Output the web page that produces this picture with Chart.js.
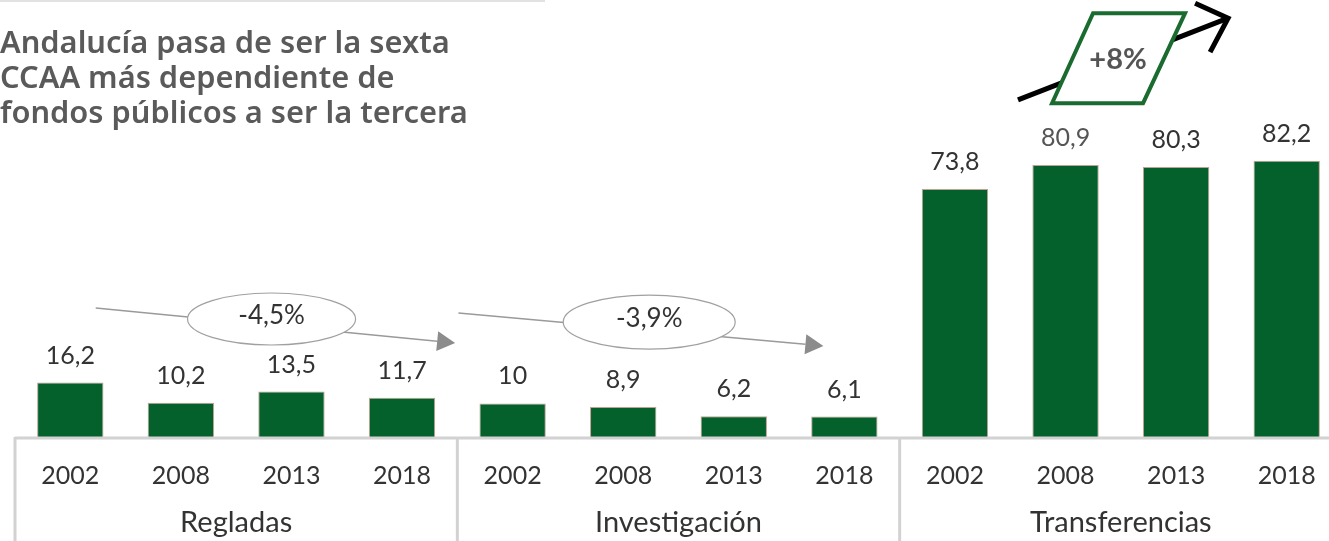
<!DOCTYPE html>
<html lang="es">
  <head>
    <meta charset="UTF-8" />
    <title>Andalucía - dependencia de fondos públicos</title>
    <script src="https://cdn.jsdelivr.net/npm/chart.js@4.4.0/dist/chart.umd.min.js"></script>
    <style>
      html, body { margin: 0; padding: 0; background: #fff; overflow: hidden; width: 1329px; height: 541px; }
      #wrap { position: relative; width: 1329px; height: 541px; overflow: hidden; }
      #title {
        position: absolute; left: 0px; top: 24px;
        font-family: "Noto Sans", sans-serif; font-weight: 600;
        font-size: 30.8px; line-height: 35px; color: #5a5a5a;
        white-space: nowrap;
      }
      canvas { position: absolute; left: 0; top: 0; }
    </style>
  </head>
  <body>
    <div id="wrap">
      <canvas id="myChart" width="1345" height="541"></canvas>
      <div id="title">Andalucía pasa de ser la sexta<br />CCAA más dependiente de<br />fondos públicos a ser la tercera</div>
    </div>
    <script>
      // datos
      let years = ["2002", "2008", "2013", "2018"];
      let groups = ["Regladas", "Investigación", "Transferencias"];
      let regladas = [16.2, 10.2, 13.5, 11.7];
      let investigacion = [10, 8.9, 6.2, 6.1];
      let transferencias = [73.8, 80.9, 80.3, 82.2];
      let changes = ["-4,5%", "-3,9%", "+8%"];

      let labels = [];
      groups.forEach(() => years.forEach((y) => labels.push(y)));
      let values = regladas.concat(investigacion, transferencias);

      const green = "#05612b";
      const font = "Lato";

      function fmt(v) {
        return String(v).replace(".", ",");
      }

      function arrow(ctx, x1, y1, x2, y2, color) {
        let a = Math.atan2(y2 - y1, x2 - x1);
        let len = 18;
        let bx = x2 - len * Math.cos(a);
        let by = y2 - len * Math.sin(a);
        ctx.strokeStyle = "#9a9a9a";
        ctx.lineWidth = 1.5;
        ctx.beginPath();
        ctx.moveTo(x1, y1);
        ctx.lineTo(bx, by);
        ctx.stroke();
        ctx.fillStyle = color;
        ctx.beginPath();
        ctx.moveTo(x2, y2);
        ctx.lineTo(bx + 10 * Math.sin(a), by - 10 * Math.cos(a));
        ctx.lineTo(bx - 10 * Math.sin(a), by + 10 * Math.cos(a));
        ctx.closePath();
        ctx.fill();
      }

      function bubble(ctx, cx, cy, rx, ry, text) {
        ctx.beginPath();
        ctx.ellipse(cx, cy, rx, ry, 0, 0, Math.PI * 2);
        ctx.fillStyle = "#fff";
        ctx.fill();
        ctx.strokeStyle = "#a0a0a0";
        ctx.lineWidth = 1.2;
        ctx.stroke();
        ctx.fillStyle = "#333";
        ctx.font = "26px " + font;
        ctx.textAlign = "center";
        ctx.textBaseline = "middle";
        ctx.fillText(text, cx, cy - 3);
      }

      const extras = {
        id: "extras",
        afterDatasetsDraw(chart) {
          let ctx = chart.ctx;
          let xs = chart.scales.x;
          let ys = chart.scales.y;
          let area = chart.chartArea;
          let px = (i) => xs.getPixelForValue(i);
          let py = (v) => ys.getPixelForValue(v);
          ctx.save();

          // línea fina arriba
          ctx.strokeStyle = "#e2e2e2";
          ctx.lineWidth = 2;
          ctx.beginPath();
          ctx.moveTo(0, 1);
          ctx.lineTo(545, 1);
          ctx.stroke();

          // tabla inferior
          ctx.strokeStyle = "#d2d2d2";
          ctx.lineWidth = 3;
          ctx.beginPath();
          ctx.moveTo(area.left, area.bottom + 1);
          ctx.lineTo(chart.width, area.bottom + 1);
          let bounds = [area.left];
          for (let g = 1; g < groups.length; g++) {
            let i = g * years.length;
            bounds.push((px(i - 1) + px(i)) / 2);
          }
          bounds.push(area.right);
          bounds.slice(0, groups.length).forEach((b) => {
            ctx.moveTo(b, area.bottom);
            ctx.lineTo(b, chart.height);
          });
          ctx.stroke();

          ctx.fillStyle = "#333";
          ctx.font = "29px " + font;
          ctx.textAlign = "center";
          ctx.textBaseline = "middle";
          groups.forEach((g, k) => {
            ctx.fillText(g, (bounds[k] + bounds[k + 1]) / 2, 523);
          });

          // etiquetas de valor
          ctx.font = "25px " + font;
          let meta = chart.getDatasetMeta(0);
          meta.data.forEach((bar, i) => {
            ctx.fillStyle = i === 9 ? "#555" : "#333";
            ctx.fillText(fmt(values[i]), bar.x, bar.y - 27);
          });

          // flechas de tendencia
          arrow(ctx, px(0.23), py(38.4), px(3.48), py(28), "#8c8c8c");
          bubble(ctx, px(1.82), py(35.1), 84, 26, changes[0]);
          arrow(ctx, px(3.51), py(36.9), px(6.81), py(27.1), "#8c8c8c");
          bubble(ctx, px(5.235), py(34.2), 86, 27, changes[1]);

          // flecha negra + paralelogramo
          let x1 = px(8.57), y1 = py(100.3);
          let x2 = px(10.47), y2 = py(124.6);
          ctx.strokeStyle = "#000";
          ctx.lineWidth = 5;
          ctx.lineCap = "butt";
          ctx.beginPath();
          ctx.moveTo(x1, y1);
          ctx.lineTo(x2, y2);
          ctx.stroke();
          ctx.beginPath();
          ctx.moveTo(x2 - 33, y2 - 15);
          ctx.lineTo(x2, y2);
          ctx.lineTo(x2 - 18, y2 + 34);
          ctx.stroke();

          let cx = px(9.475), cy = py(112.7);
          ctx.beginPath();
          ctx.moveTo(cx - 25, cy - 45);
          ctx.lineTo(cx + 67, cy - 45);
          ctx.lineTo(cx + 25, cy + 45);
          ctx.lineTo(cx - 66, cy + 45);
          ctx.closePath();
          ctx.fillStyle = "#fff";
          ctx.fill();
          ctx.strokeStyle = "#1a6b2f";
          ctx.lineWidth = 4;
          ctx.lineJoin = "miter";
          ctx.stroke();
          ctx.fillStyle = "#555";
          ctx.font = "bold 29px " + font;
          ctx.fillText(changes[2], cx, cy + 1);

          ctx.restore();
        },
      };

      new Chart("myChart", {
        type: "bar",
        data: {
          labels: labels,
          datasets: [
            {
              data: values,
              backgroundColor: green,
              borderColor: "rgba(170,120,100,0.7)",
              borderWidth: 1,
              categoryPercentage: 1,
              barPercentage: 0.6,
            },
          ],
        },
        options: {
          responsive: false,
          animation: false,
          layout: { padding: { left: 15, right: 3, top: 0, bottom: 0 } },
          plugins: { legend: { display: false }, tooltip: { enabled: false } },
          scales: {
            x: {
              grid: { display: false, drawTicks: false },
              border: { display: false },
              ticks: {
                font: { family: font, size: 25 },
                color: "#333",
                padding: 24,
                maxRotation: 0,
                autoSkip: false,
              },
              afterFit: (s) => {
                s.height = 104;
              },
            },
            y: { display: false, min: 0, max: 130 },
          },
        },
        plugins: [extras],
      });
    </script>
  </body>
</html>
